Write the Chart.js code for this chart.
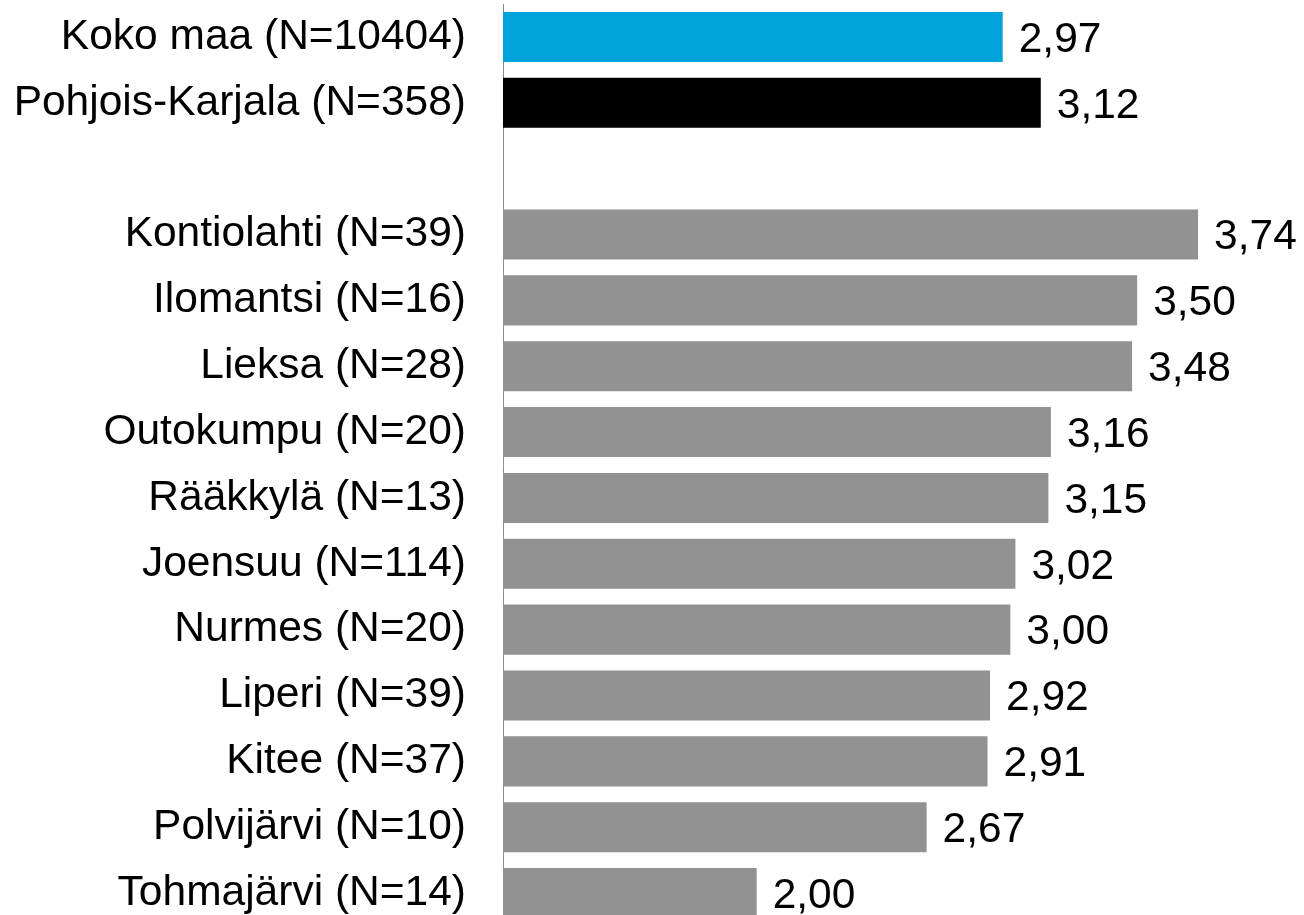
<!DOCTYPE html>
<html>
<head>
<meta charset="utf-8">
<script src="https://cdn.jsdelivr.net/npm/chart.js@4/dist/chart.umd.min.js"></script>
<style>
    html, body { margin: 0; padding: 0; background: #fff; overflow: hidden; }
    #wrap { width: 1304px; height: 926px; }
</style>
</head>
<body>
<div id="wrap"><canvas id="chart" width="1304" height="926"></canvas></div>
<script>
// Categories (an empty row separates the totals from the municipalities)
const labels = [
    'Koko maa (N=10404)',
    'Pohjois-Karjala (N=358)',
    '',
    'Kontiolahti (N=39)',
    'Ilomantsi (N=16)',
    'Lieksa (N=28)',
    'Outokumpu (N=20)',
    'Rääkkylä (N=13)',
    'Joensuu (N=114)',
    'Nurmes (N=20)',
    'Liperi (N=39)',
    'Kitee (N=37)',
    'Polvijärvi (N=10)',
    'Tohmajärvi (N=14)'
];
const values = [2.97, 3.12, null, 3.74, 3.50, 3.48, 3.16, 3.15, 3.02, 3.00, 2.92, 2.91, 2.67, 2.00];
const barColors = ['#00a3da', '#000000', '#929292', '#929292', '#929292', '#929292', '#929292',
    '#929292', '#929292', '#929292', '#929292', '#929292', '#929292', '#929292'];

const FONT = 'Arial, "Liberation Sans", sans-serif';

// Draw value labels at the end of each bar
const valueLabels = {
    id: 'valueLabels',
    afterDatasetsDraw(chart) {
        const ctx = chart.ctx;
        const meta = chart.getDatasetMeta(0);
        ctx.save();
        ctx.font = '42.5px ' + FONT;
        ctx.fillStyle = '#000';
        ctx.textAlign = 'left';
        ctx.textBaseline = 'middle';
        meta.data.forEach((bar, i) => {
            const v = values[i];
            if (v === null) return;
            ctx.fillText(v.toFixed(2).replace('.', ','), bar.x + 16, bar.y + 3);
        });
        ctx.restore();
    }
};

new Chart(document.getElementById('chart'), {
    type: 'bar',
    data: {
        labels: labels,
        datasets: [{
            data: values,
            backgroundColor: barColors,
            categoryPercentage: 1,
            barPercentage: 0.76
        }]
    },
    options: {
        indexAxis: 'y',
        responsive: false,
        animation: false,
        layout: { padding: { top: 4, right: 40, bottom: 0, left: 0 } },
        plugins: {
            legend: { display: false },
            tooltip: { enabled: false }
        },
        scales: {
            x: {
                display: false,
                min: 1,
                max: 4
            },
            y: {
                grid: { display: false, drawTicks: false },
                border: { display: true, color: '#8c8c8c', width: 1 },
                ticks: {
                    color: '#000',
                    padding: 37,
                    font: { size: 42.5, family: FONT }
                },
                afterFit(scale) {
                    scale.width = 503;
                    scale.paddingTop = 0;
                    scale.paddingBottom = 0;
                }
            }
        }
    },
    plugins: [valueLabels]
});
</script>
</body>
</html>
